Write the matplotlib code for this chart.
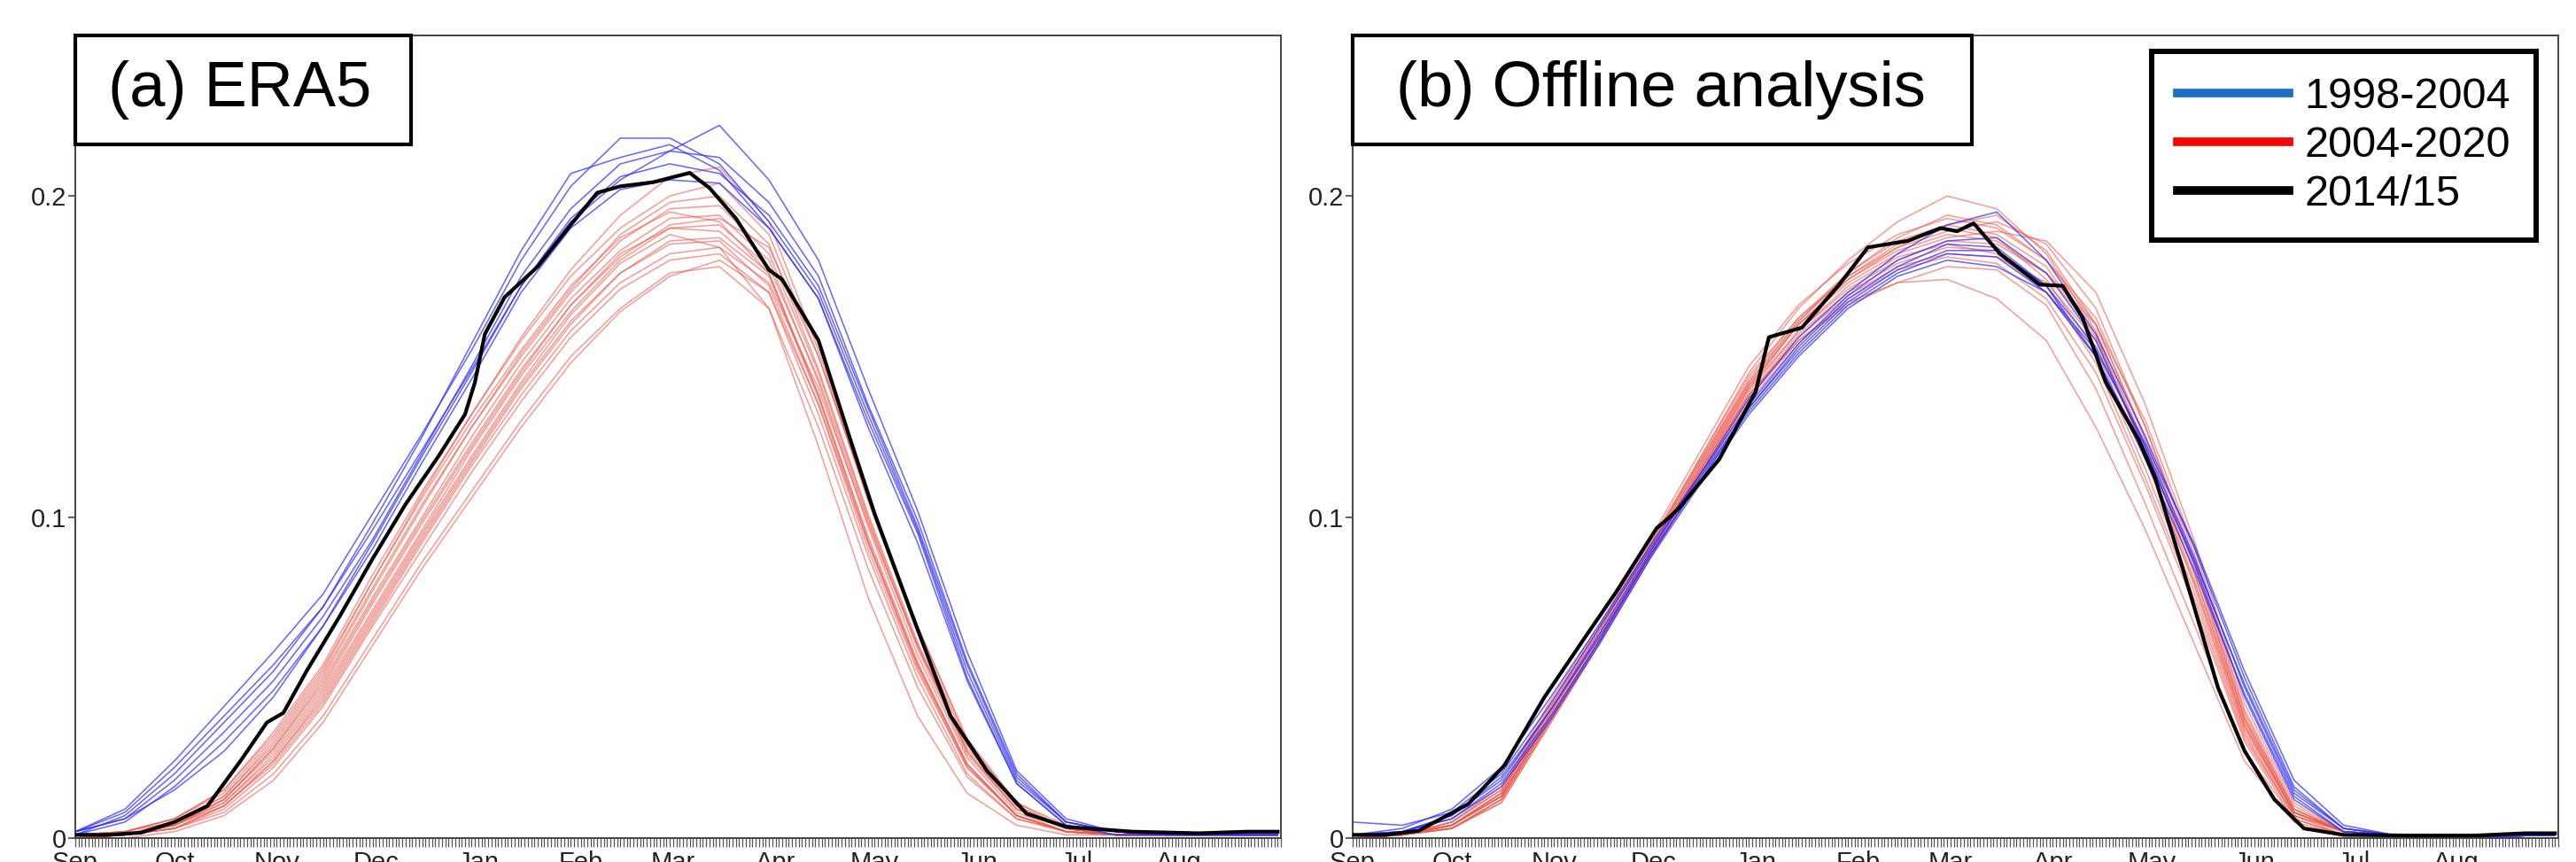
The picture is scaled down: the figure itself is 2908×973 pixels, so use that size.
import matplotlib
matplotlib.use("Agg")
import matplotlib.pyplot as plt
from matplotlib.lines import Line2D
from matplotlib.patches import Rectangle

# days since 1 Sep (sample days for the thin year curves)
days = [0, 15, 30, 45, 60, 75, 90, 105, 120, 135, 150, 165, 180, 195,
        210, 225, 240, 255, 270, 285, 300, 315, 330, 345, 364]

month_starts = [0, 30, 61, 91, 122, 153, 181, 212, 242, 273, 303, 334]
month_labels = ["Sep", "Oct", "Nov", "Dec", "Jan", "Feb", "Mar", "Apr",
                "May", "Jun", "Jul", "Aug"]

# ---------------- (a) ERA5 ----------------
era5_blue = [
    [0.002, 0.008, 0.022, 0.038, 0.054, 0.072, 0.096, 0.121, 0.146, 0.172, 0.192, 0.205, 0.214, 0.222, 0.205, 0.180, 0.140, 0.102, 0.058, 0.021, 0.006, 0.002, 0.001, 0.001, 0.001],
    [0.002, 0.009, 0.024, 0.041, 0.058, 0.076, 0.101, 0.126, 0.152, 0.180, 0.203, 0.218, 0.218, 0.210, 0.192, 0.170, 0.132, 0.096, 0.052, 0.018, 0.005, 0.002, 0.001, 0.001, 0.001],
    [0.001, 0.007, 0.020, 0.036, 0.052, 0.072, 0.098, 0.125, 0.154, 0.183, 0.207, 0.212, 0.216, 0.208, 0.190, 0.168, 0.128, 0.092, 0.049, 0.017, 0.004, 0.001, 0.001, 0.001, 0.001],
    [0.002, 0.006, 0.018, 0.033, 0.049, 0.069, 0.093, 0.120, 0.147, 0.175, 0.196, 0.210, 0.214, 0.212, 0.198, 0.175, 0.135, 0.099, 0.055, 0.020, 0.005, 0.002, 0.001, 0.001, 0.001],
    [0.001, 0.005, 0.016, 0.030, 0.046, 0.066, 0.090, 0.117, 0.143, 0.170, 0.190, 0.202, 0.205, 0.204, 0.190, 0.168, 0.130, 0.095, 0.050, 0.017, 0.004, 0.001, 0.001, 0.001, 0.001],
    [0.002, 0.006, 0.015, 0.027, 0.044, 0.066, 0.092, 0.119, 0.145, 0.172, 0.193, 0.206, 0.210, 0.207, 0.194, 0.172, 0.134, 0.097, 0.054, 0.019, 0.005, 0.002, 0.001, 0.001, 0.001],
]
era5_red = [
    [0.001, 0.002, 0.006, 0.015, 0.033, 0.054, 0.082, 0.108, 0.132, 0.155, 0.175, 0.190, 0.200, 0.204, 0.188, 0.150, 0.106, 0.066, 0.030, 0.011, 0.004, 0.002, 0.001, 0.001, 0.001],
    [0.001, 0.001, 0.005, 0.013, 0.030, 0.051, 0.078, 0.104, 0.128, 0.150, 0.170, 0.186, 0.196, 0.197, 0.182, 0.145, 0.100, 0.060, 0.027, 0.009, 0.003, 0.001, 0.001, 0.001, 0.001],
    [0.000, 0.001, 0.004, 0.012, 0.028, 0.049, 0.075, 0.100, 0.125, 0.148, 0.168, 0.183, 0.193, 0.194, 0.180, 0.142, 0.097, 0.057, 0.025, 0.008, 0.002, 0.001, 0.001, 0.001, 0.001],
    [0.001, 0.001, 0.004, 0.011, 0.026, 0.046, 0.071, 0.096, 0.121, 0.144, 0.164, 0.180, 0.190, 0.189, 0.176, 0.138, 0.094, 0.055, 0.023, 0.007, 0.002, 0.001, 0.001, 0.001, 0.001],
    [0.000, 0.001, 0.003, 0.010, 0.024, 0.044, 0.069, 0.094, 0.118, 0.141, 0.161, 0.176, 0.185, 0.186, 0.172, 0.135, 0.090, 0.052, 0.022, 0.007, 0.002, 0.001, 0.001, 0.001, 0.001],
    [0.000, 0.001, 0.003, 0.008, 0.020, 0.038, 0.062, 0.086, 0.108, 0.130, 0.150, 0.165, 0.176, 0.178, 0.165, 0.128, 0.084, 0.047, 0.019, 0.006, 0.002, 0.001, 0.001, 0.001, 0.001],
    [0.001, 0.001, 0.004, 0.012, 0.028, 0.048, 0.074, 0.099, 0.123, 0.146, 0.166, 0.181, 0.191, 0.193, 0.184, 0.150, 0.106, 0.066, 0.031, 0.011, 0.003, 0.001, 0.001, 0.001, 0.001],
    [0.000, 0.001, 0.004, 0.011, 0.025, 0.045, 0.070, 0.095, 0.119, 0.142, 0.163, 0.179, 0.188, 0.184, 0.165, 0.122, 0.075, 0.038, 0.014, 0.004, 0.001, 0.001, 0.001, 0.001, 0.001],
    [0.000, 0.001, 0.003, 0.009, 0.022, 0.041, 0.066, 0.090, 0.114, 0.136, 0.156, 0.171, 0.180, 0.182, 0.170, 0.132, 0.088, 0.050, 0.020, 0.006, 0.002, 0.001, 0.001, 0.001, 0.001],
    [0.001, 0.002, 0.006, 0.014, 0.031, 0.052, 0.080, 0.106, 0.130, 0.152, 0.172, 0.187, 0.195, 0.192, 0.176, 0.138, 0.093, 0.054, 0.023, 0.007, 0.002, 0.001, 0.001, 0.001, 0.001],
    [0.000, 0.001, 0.003, 0.010, 0.023, 0.042, 0.067, 0.092, 0.116, 0.138, 0.158, 0.173, 0.182, 0.184, 0.173, 0.140, 0.098, 0.060, 0.028, 0.010, 0.003, 0.001, 0.001, 0.001, 0.001],
    [0.001, 0.001, 0.005, 0.012, 0.027, 0.047, 0.073, 0.098, 0.122, 0.145, 0.166, 0.182, 0.190, 0.191, 0.178, 0.143, 0.099, 0.059, 0.026, 0.009, 0.003, 0.001, 0.001, 0.001, 0.001],
    [0.001, 0.002, 0.005, 0.013, 0.029, 0.050, 0.077, 0.103, 0.128, 0.151, 0.171, 0.188, 0.198, 0.200, 0.185, 0.146, 0.101, 0.061, 0.027, 0.009, 0.003, 0.001, 0.001, 0.001, 0.001],
    [0.000, 0.001, 0.004, 0.010, 0.024, 0.043, 0.068, 0.093, 0.117, 0.140, 0.160, 0.176, 0.186, 0.187, 0.175, 0.137, 0.092, 0.053, 0.022, 0.007, 0.002, 0.001, 0.001, 0.001, 0.001],
    [0.001, 0.002, 0.006, 0.015, 0.032, 0.053, 0.080, 0.107, 0.132, 0.156, 0.177, 0.194, 0.206, 0.209, 0.192, 0.152, 0.105, 0.064, 0.029, 0.010, 0.003, 0.001, 0.001, 0.001, 0.001],
    [0.000, 0.000, 0.002, 0.007, 0.018, 0.036, 0.060, 0.084, 0.106, 0.128, 0.148, 0.164, 0.175, 0.180, 0.170, 0.135, 0.092, 0.054, 0.023, 0.007, 0.002, 0.001, 0.001, 0.001, 0.001],
]
era5_1415_days = [0, 10, 20, 30, 40, 50, 58, 63, 70, 80, 90, 100, 110, 118, 121,
                  124, 130, 140, 150, 158, 165, 175, 186, 192, 200, 210, 214,
                  225, 235, 242, 255, 265, 276, 288, 300, 320, 340, 355, 364]
era5_1415 = [0.001, 0.001, 0.0017, 0.005, 0.010, 0.024, 0.036, 0.039, 0.052,
             0.069, 0.087, 0.104, 0.119, 0.132, 0.142, 0.157, 0.1685, 0.178,
             0.191, 0.201, 0.203, 0.2043, 0.2072, 0.2025, 0.193, 0.177, 0.174,
             0.155, 0.123, 0.101, 0.065, 0.038, 0.021, 0.0076, 0.0035, 0.002,
             0.0015, 0.002, 0.002]

# ---------------- (b) Offline analysis ----------------
off_blue = [
    [0.005, 0.004, 0.008, 0.020, 0.042, 0.066, 0.090, 0.112, 0.134, 0.152, 0.167, 0.177, 0.183, 0.183, 0.172, 0.150, 0.118, 0.083, 0.045, 0.013, 0.002, 0.001, 0.0005, 0.0005, 0.001],
    [0.001, 0.002, 0.007, 0.018, 0.040, 0.064, 0.089, 0.113, 0.137, 0.156, 0.170, 0.182, 0.191, 0.195, 0.180, 0.157, 0.125, 0.090, 0.050, 0.016, 0.003, 0.001, 0.0005, 0.0005, 0.001],
    [0.001, 0.002, 0.006, 0.017, 0.038, 0.062, 0.088, 0.111, 0.134, 0.153, 0.168, 0.178, 0.185, 0.184, 0.172, 0.153, 0.122, 0.087, 0.047, 0.014, 0.003, 0.001, 0.0005, 0.0005, 0.001],
    [0.001, 0.002, 0.006, 0.016, 0.037, 0.061, 0.087, 0.110, 0.132, 0.150, 0.165, 0.175, 0.180, 0.178, 0.170, 0.152, 0.123, 0.091, 0.052, 0.018, 0.004, 0.001, 0.0005, 0.0005, 0.001],
    [0.001, 0.003, 0.009, 0.022, 0.044, 0.067, 0.091, 0.113, 0.135, 0.154, 0.169, 0.180, 0.186, 0.187, 0.176, 0.155, 0.121, 0.085, 0.044, 0.012, 0.002, 0.001, 0.0005, 0.0005, 0.001],
    [0.001, 0.002, 0.007, 0.019, 0.040, 0.063, 0.088, 0.111, 0.133, 0.151, 0.166, 0.176, 0.182, 0.181, 0.170, 0.150, 0.120, 0.086, 0.048, 0.015, 0.003, 0.001, 0.0005, 0.0005, 0.001],
]
off_red = [
    [0.001, 0.001, 0.004, 0.014, 0.040, 0.065, 0.091, 0.118, 0.145, 0.165, 0.180, 0.192, 0.200, 0.196, 0.182, 0.158, 0.122, 0.082, 0.036, 0.008, 0.002, 0.001, 0.0005, 0.0005, 0.001],
    [0.001, 0.001, 0.004, 0.013, 0.038, 0.062, 0.088, 0.112, 0.137, 0.155, 0.167, 0.173, 0.174, 0.168, 0.155, 0.128, 0.096, 0.060, 0.024, 0.005, 0.001, 0.001, 0.0005, 0.0005, 0.001],
    [0.001, 0.001, 0.005, 0.015, 0.042, 0.066, 0.092, 0.118, 0.144, 0.162, 0.176, 0.186, 0.191, 0.188, 0.178, 0.156, 0.122, 0.082, 0.035, 0.008, 0.002, 0.001, 0.0005, 0.0005, 0.001],
    [0.000, 0.001, 0.003, 0.012, 0.037, 0.062, 0.089, 0.115, 0.140, 0.160, 0.174, 0.183, 0.188, 0.186, 0.176, 0.160, 0.130, 0.090, 0.040, 0.010, 0.002, 0.001, 0.0005, 0.0005, 0.001],
    [0.001, 0.001, 0.004, 0.014, 0.040, 0.064, 0.090, 0.116, 0.142, 0.161, 0.175, 0.184, 0.189, 0.192, 0.185, 0.165, 0.128, 0.086, 0.038, 0.009, 0.002, 0.001, 0.0005, 0.0005, 0.001],
    [0.000, 0.001, 0.003, 0.011, 0.036, 0.061, 0.087, 0.112, 0.136, 0.154, 0.168, 0.177, 0.181, 0.179, 0.168, 0.145, 0.110, 0.072, 0.030, 0.006, 0.001, 0.001, 0.0005, 0.0005, 0.001],
    [0.001, 0.001, 0.005, 0.016, 0.043, 0.067, 0.093, 0.120, 0.147, 0.166, 0.179, 0.188, 0.193, 0.190, 0.180, 0.160, 0.125, 0.085, 0.037, 0.008, 0.002, 0.001, 0.0005, 0.0005, 0.001],
    [0.000, 0.001, 0.003, 0.012, 0.037, 0.062, 0.088, 0.114, 0.139, 0.158, 0.172, 0.181, 0.185, 0.182, 0.170, 0.150, 0.115, 0.076, 0.032, 0.007, 0.002, 0.001, 0.0005, 0.0005, 0.001],
    [0.001, 0.001, 0.004, 0.013, 0.039, 0.063, 0.089, 0.115, 0.141, 0.160, 0.173, 0.182, 0.187, 0.189, 0.186, 0.170, 0.135, 0.092, 0.042, 0.011, 0.002, 0.001, 0.0005, 0.0005, 0.001],
    [0.000, 0.001, 0.003, 0.012, 0.037, 0.062, 0.088, 0.113, 0.138, 0.157, 0.170, 0.179, 0.184, 0.183, 0.172, 0.148, 0.112, 0.074, 0.031, 0.007, 0.001, 0.001, 0.0005, 0.0005, 0.001],
    [0.001, 0.001, 0.004, 0.014, 0.041, 0.065, 0.091, 0.117, 0.143, 0.162, 0.175, 0.185, 0.190, 0.187, 0.174, 0.152, 0.118, 0.079, 0.034, 0.008, 0.002, 0.001, 0.0005, 0.0005, 0.001],
    [0.000, 0.001, 0.003, 0.011, 0.036, 0.061, 0.087, 0.113, 0.138, 0.156, 0.169, 0.178, 0.182, 0.181, 0.173, 0.155, 0.120, 0.080, 0.035, 0.008, 0.002, 0.001, 0.0005, 0.0005, 0.001],
    [0.001, 0.001, 0.004, 0.013, 0.039, 0.064, 0.090, 0.116, 0.141, 0.160, 0.174, 0.184, 0.191, 0.194, 0.183, 0.160, 0.124, 0.084, 0.037, 0.009, 0.002, 0.001, 0.0005, 0.0005, 0.001],
    [0.000, 0.001, 0.004, 0.013, 0.038, 0.062, 0.089, 0.114, 0.140, 0.158, 0.171, 0.180, 0.186, 0.185, 0.176, 0.157, 0.119, 0.078, 0.033, 0.007, 0.002, 0.001, 0.0005, 0.0005, 0.001],
    [0.001, 0.001, 0.004, 0.013, 0.038, 0.062, 0.089, 0.114, 0.138, 0.155, 0.166, 0.173, 0.178, 0.177, 0.166, 0.140, 0.104, 0.066, 0.027, 0.006, 0.001, 0.001, 0.0005, 0.0005, 0.001],
    [0.001, 0.001, 0.005, 0.015, 0.041, 0.066, 0.091, 0.117, 0.142, 0.161, 0.176, 0.187, 0.194, 0.191, 0.180, 0.162, 0.128, 0.088, 0.039, 0.009, 0.002, 0.001, 0.0005, 0.0005, 0.001],
]
off_1415_days = [0, 10, 20, 35, 46, 58, 70, 80, 92, 96, 99, 111, 122, 126, 136,
                 147, 156, 168, 178, 183, 188, 196, 208, 215, 221, 228, 238,
                 243, 252, 262, 270, 279, 288, 300, 320, 340, 355, 364]
off_1415 = [0.001, 0.001, 0.0023, 0.0106, 0.0227, 0.0438, 0.062, 0.077,
            0.0965, 0.1, 0.103, 0.118, 0.139, 0.156, 0.159, 0.172, 0.184,
            0.186, 0.190, 0.189, 0.1915, 0.182, 0.1724, 0.172, 0.162, 0.142,
            0.124, 0.112, 0.0816, 0.0468, 0.0272, 0.0121, 0.003, 0.001,
            0.0008, 0.0008, 0.0015, 0.0015]

panel_titles = ["(a) ERA5", "(b) Offline analysis"]
legend_labels = ["1998-2004", "2004-2020", "2014/15"]

TICK_FONT = ["Liberation Sans Narrow", "Liberation Sans", "DejaVu Sans"]
TEXT_FONT = ["Liberation Sans", "DejaVu Sans"]

fig = plt.figure(figsize=(29.08, 9.73), dpi=100)
ax_a = fig.add_axes([0.02923, 0.02775, 0.46802, 0.93114])
ax_b = fig.add_axes([0.52510, 0.02775, 0.46802, 0.93114])

panels = [
    (ax_a, era5_blue, era5_red, era5_1415_days, era5_1415, 0.2785, 0.1367),
    (ax_b, off_blue, off_red, off_1415_days, off_1415, 0.5136, 0.2557),
]

for i, (ax, blue, red, bdays, black, box_w, text_x) in enumerate(panels):
    for ys in red:
        ax.plot(days, ys, color="#ec5a4e", lw=1.1, alpha=0.6, zorder=2)
    for ys in blue:
        ax.plot(days, ys, color="#3030ff", lw=1.1, alpha=0.75, zorder=3)
    ax.plot(bdays, black, color="black", lw=3.0, zorder=4)

    ax.set_xlim(0, 365)
    ax.set_ylim(0, 0.25)
    ax.set_yticks([0, 0.1, 0.2])
    ax.set_yticklabels(["0", "0.1", "0.2"])
    ax.set_xticks(month_starts)
    ax.set_xticklabels(month_labels)
    ax.set_xticks(range(0, 366), minor=True)

    ax.tick_params(axis="y", direction="out", length=6, width=1.2,
                   color="#444444", labelsize=21, labelcolor="#222222",
                   pad=1, labelfontfamily=TICK_FONT)
    ax.tick_params(axis="x", which="both", direction="out", length=7,
                   width=0.9, color="#555555", labelsize=21,
                   labelcolor="#222222", pad=3, labelfontfamily=TICK_FONT)
    for s in ax.spines.values():
        s.set_color("#444444")
        s.set_linewidth(1.4)

    # panel title box
    ax.add_patch(Rectangle((0, 0.864), box_w, 0.136, transform=ax.transAxes,
                           facecolor="white", edgecolor="black", lw=3,
                           clip_on=False, zorder=10))
    ax.text(text_x, 0.932, panel_titles[i], transform=ax.transAxes,
            ha="center", va="center", fontsize=52, family=TEXT_FONT,
            zorder=11)

handles = [Line2D([], [], color="#1a6fc4", lw=7),
           Line2D([], [], color="#ff0000", lw=7),
           Line2D([], [], color="black", lw=7)]
leg = ax_b.legend(handles, legend_labels, loc="upper right",
                  bbox_to_anchor=(0.9816, 0.9801), borderaxespad=0,
                  fancybox=False, framealpha=1, edgecolor="black",
                  handlelength=2.6, handletextpad=0.35, labelspacing=0.2,
                  borderpad=0.6, prop={"family": TEXT_FONT, "size": 35})
leg.get_frame().set_linewidth(4.3)
leg.set_zorder(12)

fig.savefig("out.png", dpi=100)
